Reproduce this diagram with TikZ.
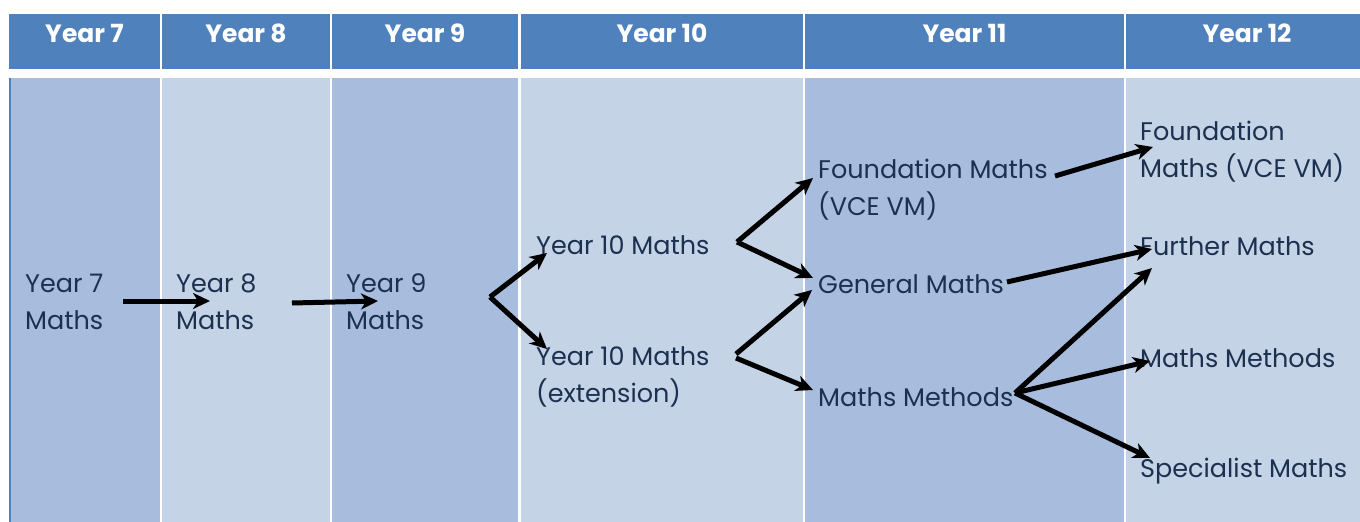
\documentclass[tikz,border=0pt]{standalone}
\usepackage{fontspec}
\setmainfont{Poppins}
\usetikzlibrary{arrows.meta}
\definecolor{hdr}{HTML}{4F81BD}
\definecolor{dk}{HTML}{A8BDDD}
\definecolor{lt}{HTML}{C5D3E6}
\definecolor{txt}{HTML}{1C3150}
\tikzset{
  hdrtext/.style={text=white,font=\fontsize{25}{28}\selectfont\bfseries,anchor=center,inner sep=0},
  lbl/.style={text=txt,font=\fontsize{25.5}{37}\selectfont,anchor=west,align=left,inner sep=0},
  arr/.style={line width=5pt,-{Stealth[length=17pt,width=16pt,inset=5pt]}}
}
\begin{document}
\begin{tikzpicture}[x=1pt,y=-1pt]
\useasboundingbox (0,0) rectangle (1360,522);
\fill[white] (0,0) rectangle (1360,522);
% header
\fill[hdr] (9,14) rectangle (160,69);
\fill[hdr] (162,14) rectangle (330,69);
\fill[hdr] (332,14) rectangle (518,69);
\fill[hdr] (521,14) rectangle (803,69);
\fill[hdr] (805,14) rectangle (1124,69);
\fill[hdr] (1126,14) rectangle (1360,69);
% body
\fill[dk] (9,78) rectangle (160,522);
\fill[lt] (162,78) rectangle (330,522);
\fill[dk] (332,78) rectangle (518,522);
\fill[lt] (521,78) rectangle (803,522);
\fill[dk] (805,78) rectangle (1124,522);
\fill[lt] (1126,78) rectangle (1360,522);
\fill[hdr] (9,78) rectangle (11,522);
% header texts
\node[hdrtext] (h7) at (84.5,33) {Year 7};
\node[hdrtext] (h8) at (246,33) {Year 8};
\node[hdrtext] (h9) at (425,33) {Year 9};
\node[hdrtext] (h10) at (662,33) {Year 10};
\node[hdrtext] (h11) at (964.5,33) {Year 11};
\node[hdrtext] (h12) at (1247,33) {Year 12};
% labels
\node[lbl] (y7) at (25,302) {Year 7\\Maths};
\node[lbl] (y8) at (176,302) {Year 8\\Maths};
\node[lbl] (y9) at (346,302) {Year 9\\Maths};
\node[lbl] (y10) at (536,245) {Year 10 Maths};
\node[lbl] (y10x) at (536,377) {Year 10 Maths\\(extension)};
\node[lbl] (fm11) at (818,190) {Foundation Maths\\(VCE VM)};
\node[lbl] (gm11) at (818,284) {General Maths};
\node[lbl] (mm11) at (818,397) {Maths Methods};
\node[lbl] (fm12) at (1140,152) {Foundation\\Maths (VCE VM)};
\node[lbl] (fu12) at (1140,246) {Further Maths};
\node[lbl] (mm12) at (1140,358) {Maths Methods};
\node[lbl] (sm12) at (1140,471) {Specialist Maths};
% connector points
\coordinate (a1s) at (123,301); \coordinate (a1e) at (210,301);
\coordinate (a2s) at (292,303); \coordinate (a2e) at (378,301);
\coordinate (b9) at (490,297); \coordinate (b9u) at (547,253); \coordinate (b9d) at (547,349);
\coordinate (b10) at (737,242); \coordinate (b10u) at (813,178); \coordinate (b10d) at (813,278);
\coordinate (b10xa) at (736,354); \coordinate (b10xb) at (736,358);
\coordinate (b10xu) at (812,290); \coordinate (b10xd) at (813,390);
\coordinate (c1s) at (1055,176); \coordinate (c1e) at (1153,147);
\coordinate (c2s) at (1007,282); \coordinate (c2e) at (1152,249);
\coordinate (c3) at (1015,393); \coordinate (c3a) at (1152,268);
\coordinate (c3b) at (1150,361); \coordinate (c3c) at (1150,458);
% arrows
\draw[arr] (a1s) -- (a1e);
\draw[arr] (a2s) -- (a2e);
\draw[arr] (b9) -- (b9u);
\draw[arr] (b9) -- (b9d);
\draw[arr] (b10) -- (b10u);
\draw[arr] (b10) -- (b10d);
\draw[arr] (b10xa) -- (b10xu);
\draw[arr] (b10xb) -- (b10xd);
\draw[arr] (c1s) -- (c1e);
\draw[arr] (c2s) -- (c2e);
\draw[arr] (c3) -- (c3a);
\draw[arr] (c3) -- (c3b);
\draw[arr] (c3) -- (c3c);
\end{tikzpicture}
\end{document}
